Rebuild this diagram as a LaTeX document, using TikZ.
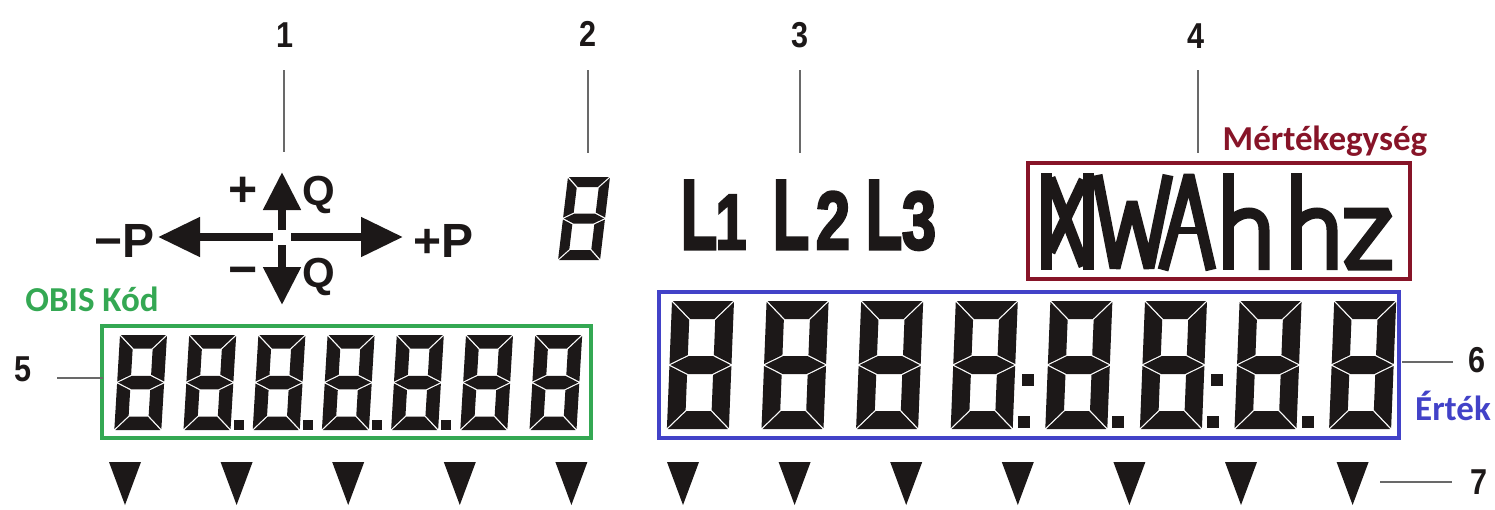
\documentclass[tikz,border=0pt]{standalone}
\usepackage{fontspec}
\setmainfont{Liberation Sans}
\newfontfamily\calibrifont{Carlito}
\newfontfamily\phasefont[FakeBold=3.5]{Liberation Sans Bold}
\usetikzlibrary{arrows.meta, positioning, calc}

\definecolor{obisgreen}{RGB}{52,168,83}
\definecolor{valblue}{RGB}{66,66,200}
\definecolor{unitred}{RGB}{135,20,40}
\definecolor{lcdblack}{RGB}{28,24,24}
\definecolor{leadgray}{RGB}{105,105,105}

\tikzset{
  numlbl/.style={font=\bfseries\fontsize{36}{36}\selectfont, xscale=.85,
                 inner sep=0pt, text=lcdblack},
  titlelbl/.style={font=\calibrifont\bfseries\fontsize{35}{35}\selectfont,
                   inner sep=0pt, anchor=base},
  leader/.style={draw=leadgray, line width=1.6pt},
  framebox/.style={rectangle, line width=4pt, inner sep=0pt},
  lcd/.style={fill=lcdblack},
  parrow/.style={line width=8pt, draw=lcdblack,
                 -{Triangle[width=38pt, length=42pt]}},
  qarrow/.style={line width=8pt, draw=lcdblack,
                 -{Triangle[width=36pt, length=38pt]}},
  pqlbl/.style={font=\bfseries\fontsize{48}{48}\selectfont, inner sep=0pt,
                text=lcdblack},
  qlbl/.style={font=\bfseries\fontsize{42}{42}\selectfont, inner sep=0pt,
               text=lcdblack},
  signlbl/.style={font=\bfseries\fontsize{50}{50}\selectfont, inner sep=0pt,
                  text=lcdblack},
  phase/.style={font=\phasefont\fontsize{99}{99}\selectfont, xscale=.6,
                inner sep=0pt, anchor=base, text=lcdblack},
  phnum/.style={font=\phasefont\fontsize{82}{82}\selectfont, xscale=.75,
                inner sep=0pt, anchor=base, text=lcdblack},
}

% one seven segment digit: x, y (top left), width, height, thickness, slant
\newcommand{\lcddigit}[6]{%
  \begin{scope}[shift={(#1,#2)}, xslant=#6]
    \pgfmathsetmacro{\segw}{#3}\pgfmathsetmacro{\segh}{#4}
    \pgfmathsetmacro{\segt}{#5}\pgfmathsetmacro{\segm}{#4/2}
    \pgfmathsetmacro{\segg}{1}
    \fill[lcd] (\segg,0) -- ({\segw-\segg},0) -- ({\segw-\segt-\segg},\segt)
      -- ({\segt+\segg},\segt) -- cycle;
    \fill[lcd] (0,\segg) -- (\segt,{\segt+\segg}) -- (\segt,{\segm-\segt/2-\segg})
      -- (0,{\segm-\segg}) -- cycle;
    \fill[lcd] (\segw,\segg) -- (\segw,{\segm-\segg}) -- ({\segw-\segt},{\segm-\segt/2-\segg})
      -- ({\segw-\segt},{\segt+\segg}) -- cycle;
    \fill[lcd] (\segg,\segm) -- ({\segt+\segg},{\segm-\segt/2}) -- ({\segw-\segt-\segg},{\segm-\segt/2})
      -- ({\segw-\segg},\segm) -- ({\segw-\segt-\segg},{\segm+\segt/2})
      -- ({\segt+\segg},{\segm+\segt/2}) -- cycle;
    \fill[lcd] (0,{\segm+\segg}) -- (\segt,{\segm+\segt/2+\segg}) -- (\segt,{\segh-\segt-\segg})
      -- (0,{\segh-\segg}) -- cycle;
    \fill[lcd] (\segw,{\segm+\segg}) -- (\segw,{\segh-\segg}) -- ({\segw-\segt},{\segh-\segt-\segg})
      -- ({\segw-\segt},{\segm+\segt/2+\segg}) -- cycle;
    \fill[lcd] (\segg,\segh) -- ({\segw-\segg},\segh) -- ({\segw-\segt-\segg},{\segh-\segt})
      -- ({\segt+\segg},{\segh-\segt}) -- cycle;
  \end{scope}}

\begin{document}
\begin{tikzpicture}[x=1pt, y=-1pt]
  \useasboundingbox (0,0) rectangle (1495,509);

  % item numbers
  \node[numlbl] (n1) at (285,35) {1};
  \node[numlbl] (n2) at (588,34) {2};
  \node[numlbl] (n3) at (800,35) {3};
  \node[numlbl] (n4) at (1196,36) {4};
  \node[numlbl] (n5) at (23,369) {5};
  \node[numlbl] (n6) at (1477,360) {6};
  \node[numlbl] (n7) at (1479,482) {7};

  % frames
  \node[framebox, draw=obisgreen, minimum width=489pt, minimum height=112pt]
    (obisbox) at (346.5,382) {};
  \node[framebox, draw=valblue, minimum width=740pt, minimum height=146pt]
    (valbox) at (1029,365) {};
  \node[framebox, draw=unitred, minimum width=382pt, minimum height=116pt]
    (unitbox) at (1219,221) {};

  \node[titlelbl, text=obisgreen] (obistitle) at (92,311) {OBIS Kód};
  \node[titlelbl, text=unitred] (unittitle) at (1325,150) {Mértékegység};
  \node[titlelbl, text=valblue] (valtitle) at (1453,420) {Érték};

  % leader lines
  \foreach \k/\xa/\ya/\xb/\yb in {1/284/70/284/152, 2/588/70/588/153,
      3/800/70/800/153, 4/1198/70/1198/153, 5/57/378/103/378,
      6/1402/362/1453/362, 7/1380/482/1452/482} {
    \coordinate (la\k) at (\xa,\ya);
    \coordinate (lb\k) at (\xb,\yb);
    \draw[leader] (la\k) -- (lb\k);
  }

  % power direction cross
  \coordinate (ctr) at (282,237);
  \coordinate (cw) at (273,237);  \coordinate (pw) at (158,237);
  \coordinate (ce) at (291,237);  \coordinate (pe) at (403,237);
  \coordinate (cn) at (282,230);  \coordinate (qn) at (282,172);
  \coordinate (cs) at (282,245);  \coordinate (qs) at (282,305);
  \draw[parrow] (cw) -- (pw);
  \draw[parrow] (ce) -- (pe);
  \draw[qarrow] (cn) -- (qn);
  \draw[qarrow] (cs) -- (qs);
  \node[pqlbl, anchor=base east] (minusp) at (155,257) {−P};
  \node[pqlbl, anchor=base west] (plusp) at (413,257) {+P};
  \node[signlbl] (qplus) at (243,192) {+};
  \node[signlbl] (qminus) at (243,277) {−};
  \node[qlbl, anchor=base west] (qup) at (302,205) {Q};
  \node[qlbl, anchor=base west] (qdown) at (302,287) {Q};

  % single digit
  \lcddigit{568}{177}{42}{83}{10}{0.12}

  % phases
  \node[phase] (l1) at (699,249) {L};
  \node[phnum, font=\phasefont\fontsize{78}{78}\selectfont, xscale=.95] (p1) at (731,249) {1};
  \node[phase] (l2) at (791,249) {L};
  \node[phnum] (p2) at (833,249) {2};
  \node[phase] (l3) at (884,249) {L};
  \node[phnum] (p3) at (919,249) {3};

  % unit segments
  \begin{scope}[line width=11pt, draw=lcdblack, line join=miter, miter limit=2]
    \draw (1046,173) -- (1046,270);
    \draw (1088,173) -- (1088,270);
    \draw (1050,178) -- (1084,266);
    \draw (1050,252) -- (1084,180);
    \draw (1097,175) -- (1115,268) -- (1132,202) -- (1149,268) -- (1168,175);
    \draw (1163,270) -- (1189,175) -- (1211,270);
    \draw[line width=7pt] (1176,230) -- (1203,230);
    \draw (1228,173) -- (1228,270);
    \draw (1228,226) .. controls (1236,210) and (1264,206) .. (1264,230) -- (1264,270);
    \draw (1296,173) -- (1296,270);
    \draw (1296,226) .. controls (1304,210) and (1332,206) .. (1332,230) -- (1332,270);
    \draw (1344,213) -- (1388,213) -- (1348,265) -- (1392,265);
  \end{scope}

  % OBIS digits
  \foreach \i in {0,...,6}
    \lcddigit{120+69.2*\i}{335}{47}{95}{13.5}{0.06}
  \foreach \i in {1,...,4}
    \fill[lcd] ({120+69.2*\i+47-5.7+3},420) rectangle +(10,10);

  % value digits
  \foreach \i in {0,...,7}
    \lcddigit{672+94.6*\i}{301}{62}{128}{18}{0.04}
  \foreach \i in {3,...,6}
    \fill[lcd] ({672+94.6*\i+57+5},416) rectangle +(12,12);
  \foreach \i in {3,5}
    \fill[lcd] ({672+94.6*\i+62+4},374) rectangle +(12,12);

  % markers
  \foreach \i in {0,...,11}
    \fill[lcd] ({125+111.6*\i-16},462) -- ++(32,0) -- ++(-16,43) -- cycle;
\end{tikzpicture}
\end{document}
